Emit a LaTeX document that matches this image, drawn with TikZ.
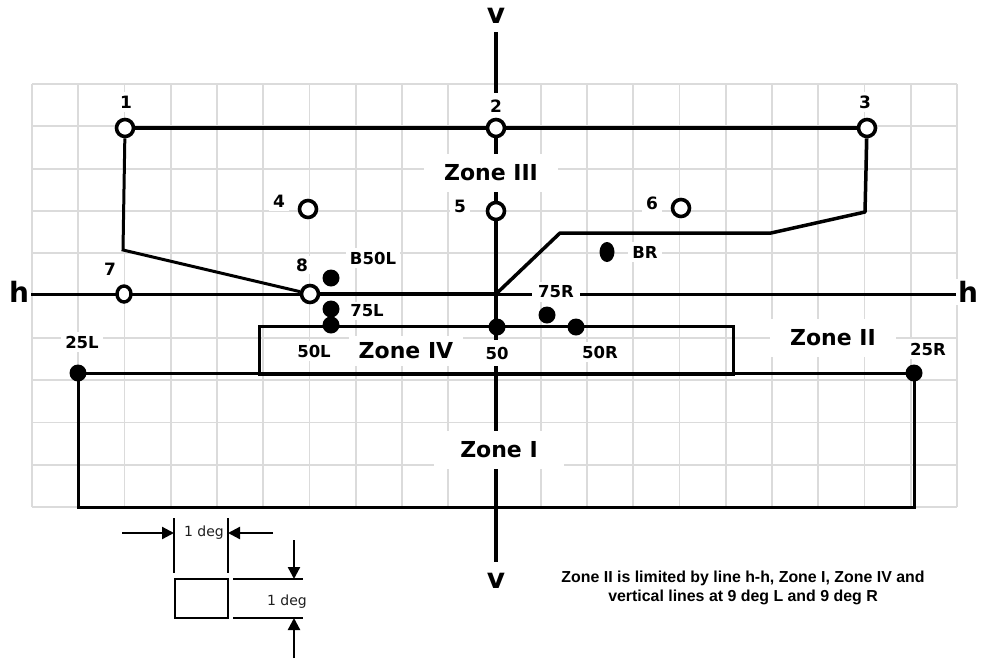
\documentclass[tikz,border=0pt]{standalone}
\usepackage{fontspec}
\newfontfamily\dv{DejaVu Sans}
\newfontfamily\lib{Liberation Sans}
\usetikzlibrary{arrows.meta,shapes.geometric}
\pgfdeclarelayer{gridlayer}
\pgfdeclarelayer{linelayer}
\pgfdeclarelayer{labellayer}
\pgfsetlayers{gridlayer,linelayer,labellayer,main}
\begin{document}
\begin{tikzpicture}[x=1pt,y=-1pt,
  gridline/.style={draw=black!14,line width=1.8pt},
  opendot/.style={circle,draw,line width=3.6pt,fill=white,minimum size=17pt,inner sep=0pt},
  filldot/.style={circle,fill=black,minimum size=17pt,inner sep=0pt},
  tallopen/.style={ellipse,draw,line width=3.4pt,fill=white,minimum width=14pt,minimum height=16pt,inner sep=0pt},
  talldot/.style={ellipse,fill=black,minimum width=15pt,minimum height=20pt,inner sep=0pt},
  numlab/.style={font=\dv\bfseries\fontsize{17}{19}\selectfont,fill=white,inner sep=4pt},
  ptlab/.style={font=\dv\bfseries\fontsize{16.5}{18}\selectfont,fill=white,inner sep=4pt},
  zonelab/.style={font=\dv\bfseries\fontsize{22}{24}\selectfont,fill=white,inner xsep=20pt,inner ysep=11pt},
  axlab/.style={font=\dv\bfseries\fontsize{28}{30}\selectfont,fill=white,inner sep=2pt},
  deglab/.style={font=\dv\fontsize{14}{16}\selectfont,text=black!88,inner sep=1pt},
  thickline/.style={line width=4pt},
  midline/.style={line width=3.5pt},
  thinline/.style={line width=3pt},
  dimline/.style={line width=2.3pt},
  dimarrow/.style={line width=2.3pt,-{Triangle[length=12pt,width=12pt]}}
]
\useasboundingbox (0,0) rectangle (981,659);

% background and grid
\begin{pgfonlayer}{gridlayer}
\fill[white] (0,0) rectangle (981,659);
\foreach \i in {0,...,20} \draw[gridline] ({32+46.25*\i},84) -- ({32+46.25*\i},507);
\foreach \j in {0,...,10} \draw[gridline] (32,{84+42.3*\j}) -- (957,{84+42.3*\j});
\end{pgfonlayer}

% points
\node[opendot] (c1) at (125,128) {};
\node[opendot] (c2) at (496,128) {};
\node[opendot] (c3) at (867,128) {};
\node[opendot] (c4) at (308,209) {};
\node[opendot] (c5) at (496,211) {};
\node[opendot] (c6) at (681,208) {};
\node[tallopen] (c7) at (124,294) {};
\node[opendot] (c8) at (310,294) {};
\node[filldot] (pB50L) at (331,278) {};
\node[filldot] (p75L) at (331,309) {};
\node[filldot] (p50L) at (331,325) {};
\node[filldot] (p50) at (497,327) {};
\node[filldot] (p75R) at (547,315) {};
\node[filldot] (p50R) at (576,327) {};
\node[talldot] (pBR) at (607,252) {};
\node[filldot] (p25L) at (78,373) {};
\node[filldot] (p25R) at (914,373) {};

% auxiliary coordinates
\coordinate (vtop) at (496,32);
\coordinate (vbot) at (496,562);
\coordinate (hl) at (30,294);
\coordinate (hr) at (957,294);
\coordinate (o) at (496,294);
\coordinate (k1) at (123,250);
\coordinate (k3) at (865,212);
\coordinate (k3b) at (771,233);
\coordinate (k3c) at (560,233);
\coordinate (z4a) at (259,326);
\coordinate (z4b) at (733,374);
\coordinate (z1l) at (78,507);
\coordinate (z1r) at (914,507);

% labels
\begin{pgfonlayer}{labellayer}
\node[numlab] (l1) at (126,102) {1};
\node[numlab,inner ysep=7pt] (l2) at (496,106) {2};
\node[numlab] (l3) at (865,102) {3};
\node[numlab] (l4) at (279,201) {4};
\node[numlab] (l5) at (460,206) {5};
\node[numlab] (l6) at (652,203) {6};
\node[numlab,inner sep=3pt] (l7) at (110,269) {7};
\node[numlab,inner sep=3pt] (l8) at (302,265) {8};
\node[ptlab] (tB50L) at (373,258) {B50L};
\node[ptlab] (tBR) at (645,252) {BR};
\node[ptlab,inner sep=3pt] (t75L) at (367,311) {75L};
\node[ptlab,inner xsep=6pt] (t75R) at (556,292) {75R};
\node[ptlab] (t50L) at (314,351) {50L};
\node[ptlab,inner ysep=7pt] (t50) at (497,353) {50};
\node[ptlab] (t50R) at (600,352) {50R};
\node[ptlab] (t25L) at (82,342) {25L};
\node[ptlab] (t25R) at (928,349) {25R};
\node[zonelab] (zIII) at (491,173) {Zone III};
\node[zonelab,inner xsep=10pt,inner ysep=7pt] (zIV) at (406,351) {Zone IV};
\node[zonelab] (zII) at (833,338) {Zone II};
\node[zonelab,inner xsep=26pt] (zI) at (499,450) {Zone I};
\node[axlab] (hL) at (19,292) {h};
\node[axlab] (hR) at (968,292) {h};
\node[axlab,fill=none] (vT) at (496,16) {v};
\node[axlab,fill=none] (vB) at (496,581) {v};
\end{pgfonlayer}

% lines
\begin{pgfonlayer}{linelayer}
\draw[midline] (vtop) -- (vbot);
\draw[midline,line width=3pt] (hl) -- (hr);
\draw[thickline,line width=3.8pt] (c8) -- (o);
\draw[thickline] (c1) -- (c3);
\draw[thinline] (c1) -- (k1) -- (c8);
\draw[midline,line join=round] (c3) -- (k3) -- (k3b) -- (k3c) -- (o);
\draw[midline,line width=3pt] (z4a) rectangle (z4b);
\draw[midline,line width=3pt] (p25L.center) -- (p25R.center) -- (z1r) -- (z1l) -- cycle;
\end{pgfonlayer}

% dimension sketch
\coordinate (a1s) at (122,533);
\coordinate (a1e) at (174,533);
\coordinate (a2s) at (273,533);
\coordinate (a2e) at (228,533);
\coordinate (tl1) at (174,518);
\coordinate (tl2) at (174,573);
\coordinate (tr1) at (228,518);
\coordinate (tr2) at (228,573);
\coordinate (sq1) at (175,579);
\coordinate (sq2) at (228,618);
\coordinate (hu1) at (233,579);
\coordinate (hu2) at (303,579);
\coordinate (hd1) at (233,618);
\coordinate (hd2) at (303,618);
\coordinate (a3s) at (294,540);
\coordinate (a3e) at (294,579);
\coordinate (a4s) at (294,658);
\coordinate (a4e) at (294,618);
\draw[dimarrow] (a1s) -- (a1e);
\draw[dimarrow] (a2s) -- (a2e);
\draw[dimline] (tl1) -- (tl2);
\draw[dimline,line width=1.6pt] (tr1) -- (tr2);
\draw[dimline,line width=2.6pt] (sq1) rectangle (sq2);
\draw[dimline,line width=2.6pt] (hu1) -- (hu2);
\draw[dimline,line width=2.6pt] (hd1) -- (hd2);
\draw[dimarrow] (a3s) -- (a3e);
\draw[dimarrow] (a4s) -- (a4e);
\node[deglab] (d1) at (204,533) {1 deg};
\node[deglab] (d2) at (287,602) {1 deg};

% note
\node[font=\lib\bfseries\fontsize{15.9}{19}\selectfont,align=center] (note) at (743,587.5)
  {Zone II is limited by line h-h, Zone I, Zone IV and\\vertical lines at 9 deg L and 9 deg R};
\end{tikzpicture}
\end{document}
